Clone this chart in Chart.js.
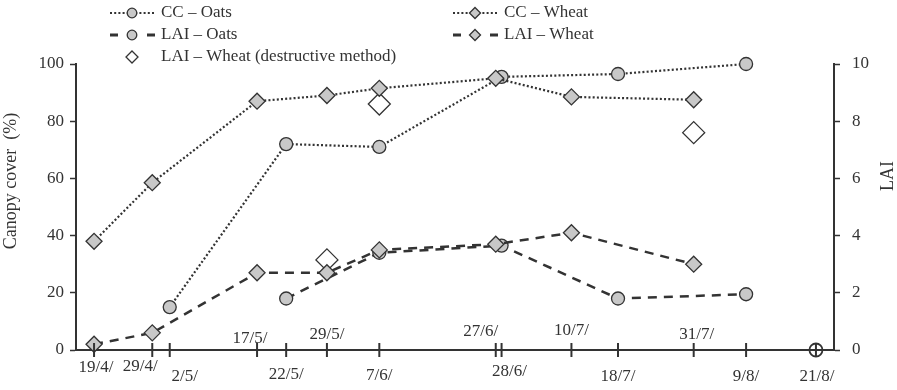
<!DOCTYPE html>
<html>
<head>
<meta charset="utf-8">
<script src="https://cdn.jsdelivr.net/npm/chart.js@4/dist/chart.umd.min.js"></script>
<style>
  html, body { margin: 0; padding: 0; background: #fff; }
  #wrap { width: 897px; height: 390px; position: relative; }
</style>
</head>
<body>
<div id="wrap"><canvas id="chart"></canvas></div>
<script>
// sampling dates (day/month) shown on the x axis
const tickDates = ['19/4', '29/4', '2/5', '17/5', '22/5', '29/5', '7/6', '27/6', '28/6', '10/7', '18/7', '31/7', '9/8', '21/8'];

// canopy cover (%)
const ccOatsDates = ['2/5', '22/5', '7/6', '28/6', '18/7', '9/8'];
const ccOats = [15, 72, 71, 95.5, 96.5, 100];
const ccWheatDates = ['19/4', '29/4', '17/5', '29/5', '7/6', '27/6', '10/7', '31/7'];
const ccWheat = [38, 58.5, 87, 89, 91.5, 95, 88.5, 87.5];

// LAI
const laiOatsDates = ['22/5', '7/6', '28/6', '18/7', '9/8'];
const laiOats = [1.8, 3.4, 3.65, 1.8, 1.95];
const laiWheatDates = ['19/4', '29/4', '17/5', '29/5', '7/6', '27/6', '10/7', '31/7'];
const laiWheat = [0.2, 0.6, 2.7, 2.7, 3.5, 3.7, 4.1, 3.0];
const laiDestrDates = ['29/5', '7/6', '31/7'];
const laiDestr = [3.15, 8.6, 7.6];

// harvest marker on the axis
const harvestDates = ['21/8'];
const harvest = [0];

const ccTicks = [0, 20, 40, 60, 80, 100];
const laiTicks = [0, 2, 4, 6, 8, 10];

// label placement for the date labels: [dx, dy from axis line]
const dateLabelOffsets = [
  [2, 18], [-12, 17], [15, 27], [-7, -11], [0, 25], [0, -15], [0, 26],
  [-15, -18], [8, 22], [0, -19], [0, 27], [3, -15], [0, 27], [1, 27]
];

const FONT = '"Liberation Serif", "Times New Roman", serif';
const INK = '#333';
const GREY = '#c8c8c8';

function toDay(s) {
  const [d, m] = s.split('/').map(Number);
  const start = [0, 31, 59, 90, 120, 151, 181, 212, 243, 273, 304, 334];
  return start[m - 1] + d;
}
function pts(dates, vals) {
  return dates.map((d, i) => ({ x: toDay(d), y: vals[i] }));
}

function drawMarker(ctx, style, x, y, r, fill) {
  ctx.beginPath();
  if (style === 'circle') {
    ctx.arc(x, y, r, 0, Math.PI * 2);
  } else {
    ctx.moveTo(x, y - r); ctx.lineTo(x + r, y); ctx.lineTo(x, y + r); ctx.lineTo(x - r, y); ctx.closePath();
  }
  ctx.fillStyle = fill;
  ctx.fill();
  ctx.setLineDash([]);
  ctx.lineWidth = 1.3;
  ctx.strokeStyle = INK;
  ctx.stroke();
}

const decor = {
  id: 'decor',
  afterDraw(chart) {
    const ctx = chart.ctx;
    const xs = chart.scales.x;
    const base = chart.chartArea.bottom;
    ctx.save();

    // "+" ticks and date labels
    ctx.font = '17px ' + FONT;
    ctx.fillStyle = INK;
    ctx.textAlign = 'center';
    ctx.textBaseline = 'middle';
    tickDates.forEach((d, i) => {
      const px = xs.getPixelForValue(toDay(d));
      ctx.beginPath();
      ctx.moveTo(px, base - 7);
      ctx.lineTo(px, base + 7);
      ctx.lineWidth = 2;
      ctx.strokeStyle = INK;
      ctx.stroke();
      const off = dateLabelOffsets[i];
      ctx.fillText(d + '/', px + off[0], base + off[1]);
    });

    // axis titles
    ctx.font = '18px ' + FONT;
    ctx.save();
    ctx.translate(11, 181);
    ctx.rotate(-Math.PI / 2);
    ctx.fillText('Canopy cover  (%)', 0, 0);
    ctx.restore();
    ctx.save();
    ctx.translate(888, 176);
    ctx.rotate(-Math.PI / 2);
    ctx.fillText('LAI', 0, 0);
    ctx.restore();

    // legend
    const ds = chart.data.datasets;
    const entries = [
      { i: 0, x: 110, y: 13 }, { i: 1, x: 453, y: 13 },
      { i: 2, x: 110, y: 35 }, { i: 3, x: 453, y: 35 },
      { i: 4, x: 110, y: 57 }
    ];
    ctx.font = '17px ' + FONT;
    ctx.textAlign = 'left';
    entries.forEach(e => {
      const d = ds[e.i];
      const mx = e.x + 22;
      ctx.strokeStyle = INK;
      if (d.showLine) {
        if (d.borderDash[0] > 4) {
          ctx.setLineDash([]);
          ctx.lineWidth = 3;
          ctx.beginPath();
          ctx.moveTo(e.x, e.y); ctx.lineTo(e.x + 8, e.y);
          ctx.moveTo(e.x + 37, e.y); ctx.lineTo(e.x + 45, e.y);
          ctx.stroke();
        } else {
          ctx.setLineDash(d.borderDash);
          ctx.lineWidth = d.borderWidth;
          ctx.beginPath();
          ctx.moveTo(e.x, e.y); ctx.lineTo(e.x + 45, e.y);
          ctx.stroke();
        }
      }
      const r = d.pointStyle === 'circle' ? 4.8 : (d.showLine ? 5.5 : 6);
      drawMarker(ctx, d.pointStyle, mx, e.y, r, d.pointBackgroundColor);
      ctx.fillStyle = INK;
      ctx.fillText(d.label, e.x + 51, e.y);
    });
    ctx.restore();
  }
};

function lineSet(label, data, axis, style, dashed, order) {
  return {
    label: label,
    data: data,
    yAxisID: axis,
    showLine: true,
    clip: false,
    borderColor: INK,
    borderWidth: dashed ? 2.5 : 2.2,
    borderDash: dashed ? [9, 7] : [2, 2.2],
    pointStyle: style,
    pointRadius: style === 'circle' ? 6.5 : 8,
    pointHoverRadius: style === 'circle' ? 6.5 : 8,
    pointBackgroundColor: GREY,
    pointBorderColor: INK,
    pointBorderWidth: 1.3,
    order: order
  };
}

new Chart(document.getElementById('chart'), {
  type: 'scatter',
  data: {
    datasets: [
      lineSet('CC – Oats', pts(ccOatsDates, ccOats), 'y', 'circle', false, 4),
      lineSet('CC – Wheat', pts(ccWheatDates, ccWheat), 'y', 'rectRot', false, 3),
      lineSet('LAI – Oats', pts(laiOatsDates, laiOats), 'y1', 'circle', true, 2),
      lineSet('LAI – Wheat', pts(laiWheatDates, laiWheat), 'y1', 'rectRot', true, 1),
      {
        label: 'LAI – Wheat (destructive method)',
        data: pts(laiDestrDates, laiDestr),
        yAxisID: 'y1',
        showLine: false,
        clip: false,
        pointStyle: 'rectRot',
        pointRadius: 11,
        pointHoverRadius: 11,
        pointBackgroundColor: '#ffffff',
        pointBorderColor: INK,
        pointBorderWidth: 1.3,
        order: 5
      },
      {
        label: 'harvest',
        data: pts(harvestDates, harvest),
        yAxisID: 'y',
        showLine: false,
        clip: false,
        pointStyle: 'circle',
        pointRadius: 6.5,
        pointHoverRadius: 6.5,
        pointBackgroundColor: 'rgba(0,0,0,0)',
        pointBorderColor: INK,
        pointBorderWidth: 1.8,
        order: 0
      }
    ]
  },
  options: {
    responsive: true,
    maintainAspectRatio: false,
    animation: false,
    events: [],
    layout: { padding: { top: 64, left: 0, right: 0, bottom: 0 } },
    plugins: {
      legend: { display: false },
      tooltip: { enabled: false }
    },
    scales: {
      x: {
        type: 'linear',
        min: 105.9,
        max: 236.1,
        ticks: { display: false },
        grid: { drawOnChartArea: false, drawTicks: false },
        border: { display: true, color: INK, width: 2 },
        afterFit(scale) { scale.height = 40; }
      },
      y: {
        position: 'left',
        min: 0,
        max: 100,
        afterBuildTicks(scale) { scale.ticks = ccTicks.map(v => ({ value: v })); },
        ticks: { font: { family: FONT, size: 17 }, color: INK, padding: 6 },
        grid: { drawOnChartArea: false, tickLength: 6, tickColor: INK, tickWidth: 1.5 },
        border: { color: INK, width: 2 },
        afterFit(scale) { scale.width = 76; }
      },
      y1: {
        position: 'right',
        min: 0,
        max: 10,
        afterBuildTicks(scale) { scale.ticks = laiTicks.map(v => ({ value: v })); },
        ticks: { font: { family: FONT, size: 17 }, color: INK, padding: 12 },
        grid: { drawOnChartArea: false, tickLength: 6, tickColor: INK, tickWidth: 1.5 },
        border: { color: INK, width: 2 },
        afterFit(scale) { scale.width = 63; }
      }
    }
  },
  plugins: [decor]
});
</script>
</body>
</html>
